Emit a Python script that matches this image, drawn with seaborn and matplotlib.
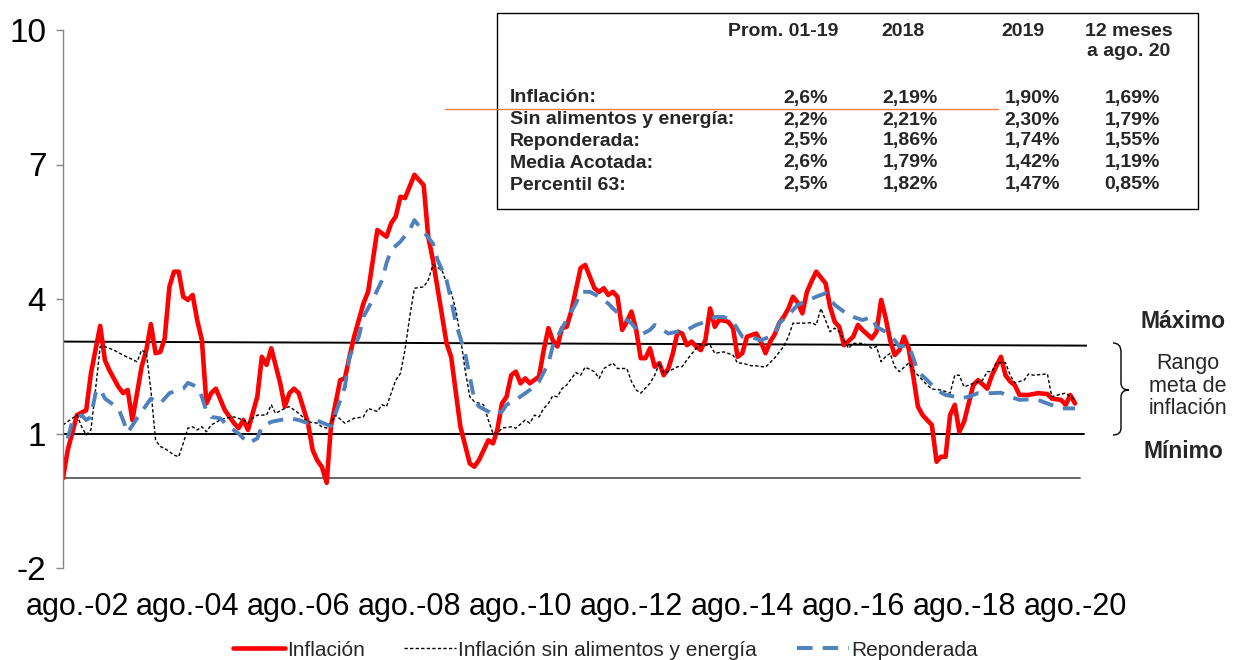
import matplotlib
matplotlib.use("Agg")
import matplotlib.pyplot as plt
import seaborn as sns
import pandas as pd
from matplotlib.path import Path
from matplotlib.patches import PathPatch, Rectangle
from matplotlib.lines import Line2D

# ---------------- data (month index counted from May 2002) ----------------
inicio = "2002-05-01"

inflacion = [
    (0, 0.00), (1, 0.63), (3, 1.41), (5, 1.52), (6, 2.34), (8, 3.40), (9, 2.64), (10, 2.42),
    (12, 2.04), (13, 1.90), (14, 1.97), (15, 1.30), (17, 2.49), (18, 2.86), (19, 3.44), (20, 2.79),
    (21, 2.82), (22, 3.12), (23, 4.27), (24, 4.61), (25, 4.61), (26, 4.05), (27, 3.98), (28, 4.09),
    (29, 3.53), (30, 3.08), (31, 1.67), (32, 1.90), (33, 2.00), (35, 1.52), (37, 1.23), (38, 1.12),
    (39, 1.30), (40, 1.08), (42, 1.82), (43, 2.71), (44, 2.53), (45, 2.90), (47, 2.12), (48, 1.60),
    (49, 1.90), (50, 2.00), (51, 1.90), (53, 1.23), (54, 0.63), (55, 0.40), (56, 0.25), (57, -0.10),
    (58, 1.15), (60, 2.19), (61, 2.23), (62, 2.71), (63, 3.16), (65, 3.90), (66, 4.16), (68, 5.54),
    (70, 5.39), (71, 5.69), (72, 5.84), (73, 6.28), (74, 6.25), (76, 6.77), (78, 6.54), (79, 5.39),
    (80, 4.87), (83, 3.01), (84, 2.71), (86, 1.15), (88, 0.33), (89, 0.26), (90, 0.41), (92, 0.85),
    (93, 0.78), (94, 1.08), (95, 1.67), (96, 1.82), (97, 2.30), (98, 2.38), (99, 2.12), (100, 2.23),
    (101, 2.12), (103, 2.27), (104, 2.86), (105, 3.35), (106, 3.08), (107, 2.94), (108, 3.35),
    (109, 3.38), (110, 3.72), (111, 4.20), (112, 4.69), (113, 4.76), (115, 4.24), (116, 4.16),
    (117, 4.24), (118, 4.09), (119, 4.16), (120, 4.05), (121, 3.31), (122, 3.49), (123, 3.72),
    (124, 3.31), (125, 2.68), (126, 2.68), (127, 2.90), (128, 2.49), (129, 2.57), (130, 2.30),
    (131, 2.45), (132, 2.79), (133, 3.27), (134, 3.23), (135, 2.97), (136, 3.05), (137, 2.94),
    (138, 2.86), (139, 3.08), (140, 3.79), (141, 3.38), (142, 3.53), (143, 3.52), (144, 3.49),
    (145, 3.35), (146, 2.71), (147, 2.79), (148, 3.16), (150, 3.23), (151, 3.05), (152, 2.79),
    (153, 3.05), (154, 3.20), (155, 3.46), (156, 3.60), (157, 3.79), (158, 4.05), (159, 3.92),
    (160, 3.68), (161, 4.16), (162, 4.40), (163, 4.61), (165, 4.35), (166, 3.83), (167, 3.49),
    (168, 3.38), (169, 2.97), (171, 3.16), (172, 3.42), (173, 3.31), (175, 3.12), (176, 3.27),
    (177, 3.98), (178, 3.60), (179, 3.08), (180, 2.75), (181, 2.86), (182, 3.16), (183, 2.90),
    (184, 2.27), (185, 1.60), (186, 1.41), (187, 1.30), (188, 1.19), (189, 0.37), (190, 0.48),
    (191, 0.48), (192, 1.41), (193, 1.64), (194, 1.04), (195, 1.26), (197, 2.08), (198, 2.19),
    (200, 2.00), (201, 2.30), (203, 2.71), (204, 2.30), (205, 2.16), (206, 2.08), (207, 1.86),
    (209, 1.86), (211, 1.90), (213, 1.88), (214, 1.78), (216, 1.75), (217, 1.64), (218, 1.86),
    (219, 1.67),
]

sin_alimentos = [
    (0, 1.19), (2, 1.34), (3, 1.41), (4, 1.15), (5, 0.97), (6, 1.08), (7, 1.97), (8, 2.94), (9, 2.94),
    (11, 2.86), (13, 2.75), (16, 2.60), (17, 2.86), (18, 2.79), (19, 1.97), (20, 0.85), (21, 0.71),
    (22, 0.67), (24, 0.52), (25, 0.48), (26, 0.78), (27, 1.12), (28, 1.15), (29, 1.08), (30, 1.15),
    (31, 1.04), (32, 1.19), (34, 1.30), (35, 1.34), (37, 1.37), (39, 1.30), (40, 1.23), (41, 1.34),
    (42, 1.41), (44, 1.41), (45, 1.64), (46, 1.45), (48, 1.56), (49, 1.60), (51, 1.45), (53, 1.26),
    (55, 1.23), (56, 1.15), (57, 1.12), (59, 1.41), (61, 1.23), (63, 1.34), (65, 1.37), (66, 1.56),
    (68, 1.49), (69, 1.64), (70, 1.60), (71, 1.90), (72, 2.19), (73, 2.34), (74, 2.86), (75, 3.60),
    (76, 4.24), (78, 4.27), (79, 4.42), (80, 4.76), (82, 4.65), (83, 4.35), (84, 4.16), (85, 3.75),
    (86, 3.16), (87, 2.42), (88, 1.82), (89, 1.71), (91, 1.64), (92, 1.30), (93, 1.00), (94, 1.00),
    (95, 1.12), (97, 1.15), (98, 1.12), (100, 1.30), (101, 1.23), (102, 1.41), (103, 1.37),
    (104, 1.56), (105, 1.67), (106, 1.84), (107, 1.82), (108, 2.00), (109, 2.08), (111, 2.36),
    (112, 2.30), (113, 2.48), (115, 2.38), (116, 2.23), (117, 2.45), (119, 2.57), (120, 2.45),
    (122, 2.45), (123, 2.16), (124, 1.97), (125, 1.90), (127, 2.12), (128, 2.30), (129, 2.57),
    (130, 2.34), (131, 2.38), (133, 2.49), (134, 2.49), (135, 2.64), (137, 2.90), (138, 2.97),
    (140, 2.97), (141, 2.79), (143, 2.82), (145, 2.75), (146, 2.57), (147, 2.57), (149, 2.51),
    (150, 2.51), (152, 2.48), (154, 2.68), (156, 2.94), (157, 3.16), (158, 3.46), (160, 3.46),
    (162, 3.47), (163, 3.42), (164, 3.79), (166, 3.27), (167, 3.35), (168, 3.27), (170, 2.90),
    (171, 3.01), (173, 3.01), (174, 2.97), (175, 2.90), (176, 2.94), (177, 2.60), (178, 2.71),
    (179, 2.79), (180, 2.49), (181, 2.38), (183, 2.57), (184, 2.42), (185, 2.30), (187, 2.08),
    (188, 1.99), (190, 1.97), (192, 1.90), (193, 2.30), (194, 2.30), (195, 2.04), (197, 2.12),
    (199, 2.19), (200, 2.38), (201, 2.38), (202, 2.58), (204, 2.58), (205, 2.30), (206, 2.13),
    (208, 2.19), (209, 2.33), (210, 2.30), (213, 2.33), (214, 1.82), (216, 1.88), (217, 1.90),
    (218, 1.82), (219, 1.75),
]

reponderada = [
    (1, 0.89), (2, 1.26), (4, 1.41), (5, 1.30), (6, 1.37), (7, 1.90), (8, 2.00), (9, 1.78), (12, 1.56),
    (13, 1.30), (14, 1.02), (16, 1.34), (19, 1.78), (21, 1.67), (23, 1.90), (26, 2.00), (27, 2.13),
    (29, 2.04), (30, 1.82), (31, 1.49), (32, 1.37), (34, 1.34), (36, 1.15), (38, 1.00), (40, 0.78),
    (42, 0.89), (43, 1.15), (45, 1.26), (47, 1.30), (49, 1.34), (51, 1.30), (53, 1.23), (55, 1.29),
    (57, 1.20), (58, 1.17), (59, 1.45), (61, 2.04), (62, 2.71), (64, 3.16), (65, 3.60), (67, 3.98),
    (69, 4.42), (70, 4.80), (71, 5.09), (73, 5.28), (75, 5.54), (76, 5.76), (78, 5.50), (80, 5.24),
    (81, 4.87), (83, 4.42), (84, 3.98), (85, 3.46), (87, 2.79), (88, 2.27), (89, 1.75), (90, 1.60),
    (92, 1.49), (93, 1.41), (95, 1.49), (96, 1.64), (98, 1.75), (101, 1.97), (103, 2.16), (105, 2.57),
    (106, 2.94), (107, 3.16), (109, 3.53), (111, 3.90), (112, 4.16), (114, 4.16), (116, 4.05),
    (118, 3.90), (119, 3.79), (121, 3.60), (123, 3.46), (125, 3.20), (127, 3.31), (128, 3.42),
    (131, 3.23), (133, 3.27), (135, 3.31), (137, 3.42), (139, 3.49), (141, 3.60), (143, 3.60),
    (145, 3.49), (147, 3.16), (149, 3.15), (151, 3.08), (154, 3.20), (155, 3.46), (157, 3.64),
    (159, 3.87), (161, 3.96), (163, 4.05), (165, 4.13), (167, 3.87), (170, 3.64), (171, 3.60),
    (173, 3.53), (175, 3.60), (176, 3.38), (178, 3.27), (180, 3.08), (181, 2.94), (183, 2.97),
    (184, 2.68), (185, 2.38), (187, 2.19), (189, 1.97), (191, 1.86), (193, 1.82), (194, 1.78),
    (196, 1.82), (198, 1.90), (201, 1.90), (203, 1.91), (205, 1.82), (207, 1.75), (209, 1.76),
    (211, 1.75), (213, 1.67), (216, 1.56), (219, 1.56),
]

series_nombres = ["Inflación", "Inflación sin alimentos y energía", "Reponderada"]
series_colores = ["#FF0000", "#000000", "#4F81BD"]

meta_max = [3.05, 2.96]   # upper target line (slightly tilted in the original)
meta_min = 1.0
linea_cero = 0.0

yticks = [-2, 1, 4, 7, 10]
xtick_meses = [3, 27, 51, 75, 99, 123, 147, 171, 195, 219]
xtick_labels = ["ago.-02", "ago.-04", "ago.-06", "ago.-08", "ago.-10",
                "ago.-12", "ago.-14", "ago.-16", "ago.-18", "ago.-20"]

tabla_cols = ["Prom. 01-19", "2018", "2019", "12 meses\na ago. 20"]
tabla_filas = ["Inflación:", "Sin alimentos y energía:", "Reponderada:", "Media Acotada:", "Percentil 63:"]
tabla_vals = [
    ["2,6%", "2,19%", "1,90%", "1,69%"],
    ["2,2%", "2,21%", "2,30%", "1,79%"],
    ["2,5%", "1,86%", "1,74%", "1,55%"],
    ["2,6%", "1,79%", "1,42%", "1,19%"],
    ["2,5%", "1,82%", "1,47%", "0,85%"],
]

# ---------------- build frame ----------------
base = pd.Timestamp(inicio)


def mes(m):
    return base + pd.DateOffset(months=int(m))


rows = []
for nombre, datos in zip(series_nombres, [inflacion, sin_alimentos, reponderada]):
    for m, v in datos:
        rows.append((mes(m), v, nombre))
df = pd.DataFrame(rows, columns=["fecha", "valor", "serie"])

sns.set_theme(style="white")
plt.rcParams["font.family"] = ["Liberation Sans", "DejaVu Sans"]

W, H = 1235, 660
fig = plt.figure(figsize=(W / 100, H / 100), dpi=100)
ax = fig.add_axes([63 / W, (H - 568) / H, (1087 - 63) / W, (568 - 30) / H])

x_ini = mes(0)
x_fin = mes(221) + pd.Timedelta(days=18)

# reference lines
ax.plot([x_ini, x_fin], meta_max, color="black", lw=1.4, zorder=1)
ax.plot([x_ini, mes(220) + pd.Timedelta(days=25)], [meta_min, meta_min], color="black", lw=1.4, zorder=1)
ax.plot([x_ini, mes(220) + pd.Timedelta(days=5)], [linea_cero, linea_cero], color="#595959", lw=1.3, zorder=1)

palette = dict(zip(series_nombres, series_colores))
dashes = {series_nombres[0]: "", series_nombres[1]: (2.4, 1.6), series_nombres[2]: (4.0, 2.6)}
sizes = {series_nombres[0]: 3.3, series_nombres[1]: 1.0, series_nombres[2]: 2.8}

sns.lineplot(data=df, x="fecha", y="valor", hue="serie", style="serie", size="serie",
             hue_order=series_nombres, style_order=series_nombres, size_order=series_nombres,
             palette=palette, dashes=dashes, sizes=sizes, legend=False, ax=ax, zorder=2)

ax.set_xlim(x_ini, x_fin)
ax.set_ylim(-2, 10)
ax.set_yticks(yticks)
ax.set_yticklabels([str(t) for t in yticks])
ax.set_xticks([mes(m) for m in xtick_meses])
ax.set_xticklabels(xtick_labels)
ax.set_xlabel("")
ax.set_ylabel("")
for s in ["top", "right", "bottom"]:
    ax.spines[s].set_visible(False)
ax.spines["left"].set_color("#868686")
ax.spines["left"].set_linewidth(1.0)
ax.tick_params(axis="y", which="major", left=True, length=5, width=1, color="#868686",
               labelsize=24, pad=7, labelcolor="black")
ax.tick_params(axis="x", which="major", bottom=False, length=0, labelsize=22, pad=17,
               labelcolor="black")
ax.grid(False)


def fx(x):
    return x / W


def fy(y):
    return 1 - y / H


# ---------------- table box ----------------
fig.add_artist(Rectangle((fx(497), fy(209)), (1198 - 497) / W, (209 - 13) / H,
                         transform=fig.transFigure, facecolor="white", edgecolor="black",
                         lw=1.0, zorder=5))
tfs = 14
head_x = [783, 903, 1023, 1129]
for cx, lab in zip(head_x, tabla_cols):
    fig.text(fx(cx), fy(23), lab, ha="center", va="top", fontsize=tfs, fontweight="bold",
             zorder=6, linespacing=1.2)
row_y = [98, 120, 141, 163, 185]
val_x = [828, 938, 1060, 1160]
for ry, lab, vals in zip(row_y, tabla_filas, tabla_vals):
    fig.text(fx(510), fy(ry), lab, ha="left", va="center", fontsize=tfs, fontweight="bold", zorder=6)
    for vx, v in zip(val_x, vals):
        fig.text(fx(vx), fy(ry), v, ha="right", va="center", fontsize=tfs, fontweight="bold", zorder=6)

fig.add_artist(Line2D([fx(445), fx(998)], [fy(109), fy(109)], transform=fig.transFigure,
                      color="#F07F3C", lw=1.0, zorder=7))

# ---------------- right annotations ----------------
fig.text(fx(1183), fy(322), "Máximo", ha="center", va="center", fontsize=16.5, fontweight="bold")
fig.text(fx(1188), fy(386), "Rango\nmeta de\ninflación", ha="center", va="center", fontsize=15.5,
         linespacing=1.1)
fig.text(fx(1183), fy(452), "Mínimo", ha="center", va="center", fontsize=16.5, fontweight="bold")

bx0, bx1, bx2 = 1113, 1121, 1129
pts = [(bx0, 343), (bx1, 343), (bx1, 352), (bx1, 383), (bx1, 390), (bx2, 390),
       (bx1, 390), (bx1, 397), (bx1, 428), (bx1, 435), (bx0, 435)]
codes = [Path.MOVETO, Path.CURVE3, Path.CURVE3, Path.LINETO, Path.CURVE3, Path.CURVE3,
         Path.CURVE3, Path.CURVE3, Path.LINETO, Path.CURVE3, Path.CURVE3]
brace = Path([(fx(x), fy(y)) for x, y in pts], codes)
fig.add_artist(PathPatch(brace, transform=fig.transFigure, facecolor="none", edgecolor="black", lw=1.0))

# ---------------- legend ----------------
handles = [Line2D([], [], color=series_colores[i], lw=sizes[n],
                  linestyle=(0, dashes[n]) if dashes[n] else "-")
           for i, n in enumerate(series_nombres)]
fig.legend(handles, series_nombres, loc="center", bbox_to_anchor=(fx(605), fy(650)), ncol=3,
           frameon=False, fontsize=15, handlelength=2.5, handletextpad=0.1, columnspacing=1.9)

fig.savefig("out.png", dpi=100)
